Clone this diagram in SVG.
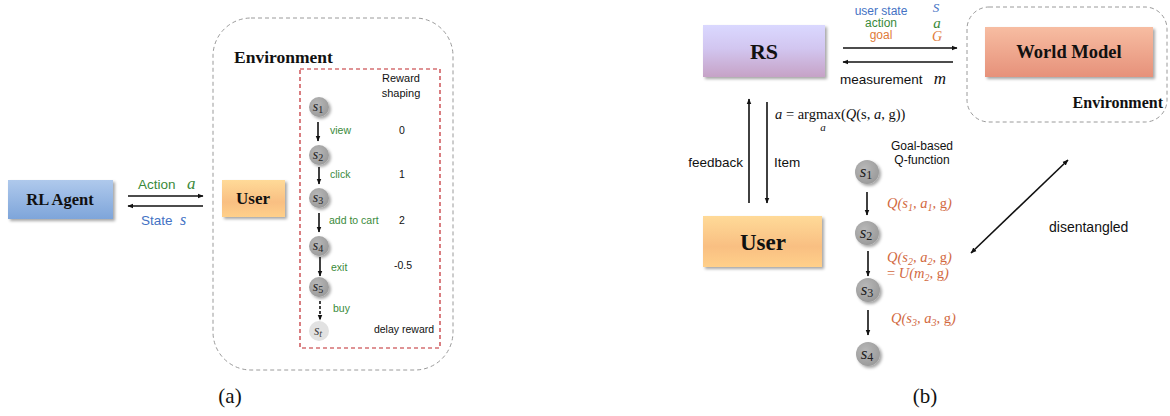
<svg xmlns="http://www.w3.org/2000/svg" width="1170" height="416" viewBox="0 0 1170 416">
<defs>
<style>
.sans{font-family:"Liberation Sans","Open Sans",sans-serif;}
.bold{font-family:"Liberation Serif","Times New Roman",serif;font-weight:bold;fill:#111;}
.math{font-family:"Liberation Serif","DejaVu Serif",serif;font-style:italic;}
.q{font-family:"Liberation Serif","DejaVu Serif",serif;font-style:italic;fill:#D2693F;font-size:14.5px;}
.green{fill:#3A8A3A;}
.blue{fill:#4472C4;}
.orange{fill:#E07B39;}
.line{stroke:#111;stroke-width:1.6;fill:none;}
.envbox{fill:none;stroke:#9A9A9A;stroke-width:1;stroke-dasharray:4 3;}
.node{fill:url(#gNode);filter:url(#sh);}
</style>
<marker id="ah" viewBox="0 0 10 10" refX="9" refY="5" markerWidth="6" markerHeight="6" orient="auto-start-reverse" markerUnits="userSpaceOnUse">
<path d="M0,1 L10,5 L0,9 z" fill="#111"/>
</marker>
<filter id="sh" x="-20%" y="-20%" width="150%" height="160%">
<feDropShadow dx="2" dy="2" stdDeviation="1.5" flood-color="#000" flood-opacity="0.35"/>
</filter>
<linearGradient id="gAgent" x1="0" y1="0" x2="0" y2="1"><stop offset="0" stop-color="#AFC9EC"/><stop offset="1" stop-color="#7EA5DA"/></linearGradient>
<linearGradient id="gUser" x1="0" y1="0" x2="0" y2="1"><stop offset="0" stop-color="#FFDA98"/><stop offset="0.6" stop-color="#F9BF82"/><stop offset="1" stop-color="#FFD08A"/></linearGradient>
<linearGradient id="gRS" x1="0" y1="0" x2="0" y2="1"><stop offset="0" stop-color="#DAD8FF"/><stop offset="0.45" stop-color="#D2C6F0"/><stop offset="1" stop-color="#C6A2C6"/></linearGradient>
<linearGradient id="gWM" x1="0" y1="0" x2="0" y2="1"><stop offset="0" stop-color="#F7BDA2"/><stop offset="1" stop-color="#E6917A"/></linearGradient>
<radialGradient id="gNode" cx="0.4" cy="0.35" r="0.7"><stop offset="0" stop-color="#B8B8B8"/><stop offset="1" stop-color="#999"/></radialGradient>
</defs>
<rect width="1170" height="416" fill="#fff"/>

<!-- ===== Panel (a) ===== -->
<g id="env-a">
<rect class="envbox" x="213" y="18" width="240" height="352" rx="38"/>
<text class="bold" x="234" y="63" font-size="17.5">Environment</text>
</g>
<g id="reward-box">
<rect x="300" y="69" width="140" height="279" fill="none" stroke="#C0282D" stroke-width="1.2" stroke-dasharray="4 3"/>
<text class="sans" x="401" y="82" font-size="11" text-anchor="middle" fill="#111">Reward</text>
<text class="sans" x="401" y="97" font-size="11" text-anchor="middle" fill="#111">shaping</text>
</g>
<g id="rl-agent">
<rect x="8" y="180" width="105" height="39" fill="url(#gAgent)" filter="url(#sh)"/>
<text class="bold" x="60" y="205" font-size="16.5" text-anchor="middle">RL Agent</text>
</g>
<g id="user-a">
<rect x="222" y="180" width="63" height="37" fill="url(#gUser)" filter="url(#sh)"/>
<text class="bold" x="253" y="204" font-size="17" text-anchor="middle">User</text>
</g>
<g id="a-s1"><circle class="node" cx="319" cy="107" r="10"/><text class="math" x="318" y="111" font-size="14" text-anchor="middle" fill="#222">s<tspan font-style="normal" font-size="10" dy="2">1</tspan></text></g>
<g id="a-s2"><circle class="node" cx="319" cy="155" r="10"/><text class="math" x="318" y="159" font-size="14" text-anchor="middle" fill="#222">s<tspan font-style="normal" font-size="10" dy="2">2</tspan></text></g>
<g id="a-s3"><circle class="node" cx="319" cy="198" r="10"/><text class="math" x="318" y="202" font-size="14" text-anchor="middle" fill="#222">s<tspan font-style="normal" font-size="10" dy="2">3</tspan></text></g>
<g id="a-s4"><circle class="node" cx="319" cy="246" r="10"/><text class="math" x="318" y="250" font-size="14" text-anchor="middle" fill="#222">s<tspan font-style="normal" font-size="10" dy="2">4</tspan></text></g>
<g id="a-s5"><circle class="node" cx="319" cy="287" r="10"/><text class="math" x="318" y="291" font-size="14" text-anchor="middle" fill="#222">s<tspan font-style="normal" font-size="10" dy="2">5</tspan></text></g>
<g id="a-st"><circle cx="319" cy="331" r="10" fill="#E2E2E2"/><text class="math" x="318" y="335" font-size="14" text-anchor="middle" fill="#444">s<tspan font-size="10" dy="2">t</tspan></text></g>
<g id="a-labels" class="sans" font-size="10.5">
<text class="green" x="330" y="134">view</text>
<text class="green" x="330" y="178">click</text>
<text class="green" x="329" y="224">add to cart</text>
<text class="green" x="331" y="271">exit</text>
<text class="green" x="333" y="312">buy</text>
<text x="402" y="134" text-anchor="middle" fill="#111">0</text>
<text x="402" y="178" text-anchor="middle" fill="#111">1</text>
<text x="402" y="224" text-anchor="middle" fill="#111">2</text>
<text x="403" y="269" text-anchor="middle" fill="#111">-0.5</text>
<text x="404" y="333" text-anchor="middle" fill="#111">delay reward</text>
</g>
<g id="a-agent-labels">
<text class="sans green" x="138" y="189" font-size="13.5">Action</text>
<text class="math" x="187" y="189" font-size="17" fill="#3A8A3A">a</text>
<text class="sans blue" x="141" y="225" font-size="13.5">State</text>
<text class="math" x="180" y="225" font-size="16" fill="#4472C4">s</text>
</g>
<text x="230" y="403" font-family="Liberation Serif, serif" font-size="21" text-anchor="middle" fill="#111">(a)</text>

<!-- ===== Panel (b) ===== -->
<g id="rs">
<rect x="703" y="25" width="122" height="52" fill="url(#gRS)" filter="url(#sh)"/>
<text class="bold" x="764" y="59" font-size="22" text-anchor="middle">RS</text>
</g>
<g id="env-b">
<rect class="envbox" x="967" y="7" width="200" height="115" rx="22"/>
<text class="bold" x="1163" y="108" font-size="16" text-anchor="end">Environment</text>
</g>
<g id="world-model">
<rect x="985" y="27" width="168" height="50" fill="url(#gWM)" filter="url(#sh)"/>
<text class="bold" x="1069" y="58" font-size="18.5" text-anchor="middle">World Model</text>
</g>
<g id="user-b">
<rect x="703" y="216" width="119" height="51" fill="url(#gUser)" filter="url(#sh)"/>
<text class="bold" x="763" y="250" font-size="23" text-anchor="middle">User</text>
</g>
<g id="b-s1"><circle class="node" cx="867" cy="172" r="12"/><text class="math" x="866" y="177" font-size="17" text-anchor="middle" fill="#222">s<tspan font-style="normal" font-size="12" dy="2">1</tspan></text></g>
<g id="b-s2"><circle class="node" cx="867" cy="233" r="12"/><text class="math" x="866" y="238" font-size="17" text-anchor="middle" fill="#222">s<tspan font-style="normal" font-size="12" dy="2">2</tspan></text></g>
<g id="b-s3"><circle class="node" cx="868" cy="290" r="12"/><text class="math" x="867" y="295" font-size="17" text-anchor="middle" fill="#222">s<tspan font-style="normal" font-size="12" dy="2">3</tspan></text></g>
<g id="b-s4"><circle class="node" cx="868" cy="354" r="12"/><text class="math" x="867" y="359" font-size="17" text-anchor="middle" fill="#222">s<tspan font-style="normal" font-size="12" dy="2">4</tspan></text></g>

<g id="b-labels">
<text class="sans blue" x="881" y="15" font-size="12" text-anchor="middle">user state</text>
<text class="sans green" x="881" y="27" font-size="12" text-anchor="middle">action</text>
<text class="sans orange" x="881" y="39" font-size="12" text-anchor="middle">goal</text>
<text class="math" x="936" y="12" font-size="13" fill="#4472C4" text-anchor="middle">S</text>
<text class="math" x="937" y="28" font-size="15" fill="#3A8A3A" text-anchor="middle">a</text>
<text class="math" x="937" y="41" font-size="14" fill="#E07B39" text-anchor="middle">G</text>
<text class="sans" x="840" y="84" font-size="13.5" fill="#111">measurement</text>
<text class="math" x="940" y="84" font-size="17" fill="#111" text-anchor="middle">m</text>
<text class="sans" x="743" y="167" font-size="13.5" fill="#111" text-anchor="end">feedback</text>
<text class="sans" x="774" y="167" font-size="13.5" fill="#111">Item</text>
<text x="775" y="119" font-family="Liberation Serif, serif" font-size="14.5" fill="#111"><tspan font-style="italic">a</tspan> = argmax(<tspan font-style="italic">Q</tspan>(s, <tspan font-style="italic">a</tspan>, g))</text>
<text x="823" y="131" font-family="Liberation Serif, serif" font-style="italic" font-size="11" fill="#111" text-anchor="middle">a</text>
<text class="sans" x="922" y="150" font-size="12" fill="#111" text-anchor="middle">Goal-based</text>
<text class="sans" x="922" y="164" font-size="12" fill="#111" text-anchor="middle">Q-function</text>
<text class="q" x="887" y="208">Q(s<tspan font-size="10" dy="3">1</tspan><tspan dy="-3">, a</tspan><tspan font-size="10" dy="3">1</tspan><tspan dy="-3">, </tspan><tspan font-style="normal">g</tspan>)</text>
<text class="q" x="887" y="262">Q(s<tspan font-size="10" dy="3">2</tspan><tspan dy="-3">, a</tspan><tspan font-size="10" dy="3">2</tspan><tspan dy="-3">, </tspan><tspan font-style="normal">g</tspan>)</text>
<text class="q" x="887" y="278"><tspan font-style="normal">=</tspan> U(m<tspan font-size="10" dy="3">2</tspan><tspan dy="-3">, </tspan><tspan font-style="normal">g</tspan>)</text>
<text class="q" x="891" y="323">Q(s<tspan font-size="10" dy="3">3</tspan><tspan dy="-3">, a</tspan><tspan font-size="10" dy="3">3</tspan><tspan dy="-3">, </tspan><tspan font-style="normal">g</tspan>)</text>
<text class="sans" x="1049" y="232" font-size="14" fill="#111">disentangled</text>
</g>
<text x="925" y="403" font-family="Liberation Serif, serif" font-size="21" text-anchor="middle" fill="#111">(b)</text>

<!-- ===== Connectors ===== -->
<g id="connectors">
<line class="line" x1="128" y1="196" x2="203" y2="196" marker-end="url(#ah)"/>
<line class="line" x1="203" y1="206" x2="128" y2="206" marker-end="url(#ah)"/>
<line class="line" x1="318" y1="122" x2="318" y2="141" stroke-width="1.3" marker-end="url(#ah)"/>
<line class="line" x1="319" y1="167" x2="319" y2="184" stroke-width="1.3" marker-end="url(#ah)"/>
<line class="line" x1="319" y1="213" x2="319" y2="232" stroke-width="1.3" marker-end="url(#ah)"/>
<line class="line" x1="320" y1="257" x2="320" y2="276" stroke-width="1.3" marker-end="url(#ah)"/>
<line class="line" x1="320" y1="301" x2="320" y2="320" stroke-width="1.3" stroke-dasharray="3 2" marker-end="url(#ah)"/>
<line class="line" x1="843" y1="48" x2="957" y2="48" marker-end="url(#ah)"/>
<line class="line" x1="953" y1="62" x2="843" y2="62" marker-end="url(#ah)"/>
<line class="line" x1="749" y1="203" x2="749" y2="99" marker-end="url(#ah)"/>
<line class="line" x1="767" y1="102" x2="767" y2="203" marker-end="url(#ah)"/>
<line class="line" x1="867" y1="192" x2="867" y2="215" marker-end="url(#ah)"/>
<line class="line" x1="868" y1="251" x2="868" y2="276" marker-end="url(#ah)"/>
<line class="line" x1="868" y1="310" x2="868" y2="335" marker-end="url(#ah)"/>
<line class="line" x1="971" y1="253" x2="1068" y2="160" marker-start="url(#ah)" marker-end="url(#ah)"/>
</g>
</svg>
